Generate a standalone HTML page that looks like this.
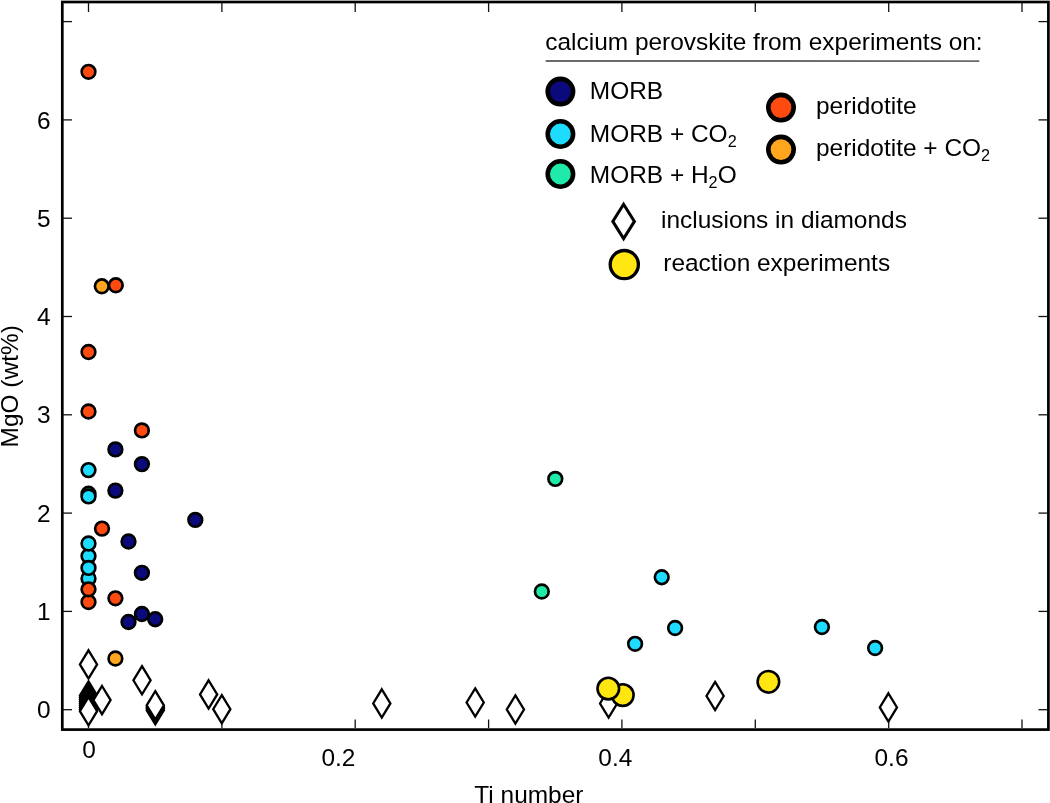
<!DOCTYPE html>
<html><head><meta charset="utf-8"><title>chart</title>
<style>html,body{margin:0;padding:0;background:#fff;}body{width:1050px;height:803px;overflow:hidden;}svg{display:block;will-change:transform;}text{font-family:"Liberation Sans",sans-serif;font-size:24.45px;fill:#000;}</style>
</head><body>
<svg width="1050" height="803" viewBox="0 0 1050 803">
<rect x="0" y="0" width="1050" height="803" fill="#fff"/>
<g stroke="#111" stroke-width="1.3" fill="none">
<line x1="88.5" y1="3" x2="88.5" y2="12"/>
<line x1="88.5" y1="728" x2="88.5" y2="719.5"/>
<line x1="221.9" y1="3" x2="221.9" y2="12"/>
<line x1="221.9" y1="728" x2="221.9" y2="719.5"/>
<line x1="355.2" y1="3" x2="355.2" y2="12"/>
<line x1="355.2" y1="728" x2="355.2" y2="719.5"/>
<line x1="488.6" y1="3" x2="488.6" y2="12"/>
<line x1="488.6" y1="728" x2="488.6" y2="719.5"/>
<line x1="621.9" y1="3" x2="621.9" y2="12"/>
<line x1="621.9" y1="728" x2="621.9" y2="719.5"/>
<line x1="755.3" y1="3" x2="755.3" y2="12"/>
<line x1="755.3" y1="728" x2="755.3" y2="719.5"/>
<line x1="888.7" y1="3" x2="888.7" y2="12"/>
<line x1="888.7" y1="728" x2="888.7" y2="719.5"/>
<line x1="1022.0" y1="3" x2="1022.0" y2="12"/>
<line x1="1022.0" y1="728" x2="1022.0" y2="719.5"/>
<line x1="63" y1="709.7" x2="72" y2="709.7"/>
<line x1="1047.5" y1="709.7" x2="1038.5" y2="709.7"/>
<line x1="63" y1="611.4" x2="72" y2="611.4"/>
<line x1="1047.5" y1="611.4" x2="1038.5" y2="611.4"/>
<line x1="63" y1="513.1" x2="72" y2="513.1"/>
<line x1="1047.5" y1="513.1" x2="1038.5" y2="513.1"/>
<line x1="63" y1="414.8" x2="72" y2="414.8"/>
<line x1="1047.5" y1="414.8" x2="1038.5" y2="414.8"/>
<line x1="63" y1="316.5" x2="72" y2="316.5"/>
<line x1="1047.5" y1="316.5" x2="1038.5" y2="316.5"/>
<line x1="63" y1="218.2" x2="72" y2="218.2"/>
<line x1="1047.5" y1="218.2" x2="1038.5" y2="218.2"/>
<line x1="63" y1="119.9" x2="72" y2="119.9"/>
<line x1="1047.5" y1="119.9" x2="1038.5" y2="119.9"/>
<line x1="63" y1="21.6" x2="72" y2="21.6"/>
<line x1="1047.5" y1="21.6" x2="1038.5" y2="21.6"/>
</g>
<g>
<path d="M88.5 650.3L97.1 664.4L88.5 678.5L79.9 664.4Z" fill="#fff" stroke="#000" stroke-width="2.3" stroke-linejoin="miter"/>
<path d="M88.5 681.4L97.1 695.5L88.5 709.6L79.9 695.5Z" fill="#fff" stroke="#000" stroke-width="2.3" stroke-linejoin="miter"/>
<path d="M88.5 683.4L97.1 697.5L88.5 711.6L79.9 697.5Z" fill="#fff" stroke="#000" stroke-width="2.3" stroke-linejoin="miter"/>
<path d="M88.5 685.4L97.1 699.5L88.5 713.6L79.9 699.5Z" fill="#fff" stroke="#000" stroke-width="2.3" stroke-linejoin="miter"/>
<path d="M88.5 687.4L97.1 701.5L88.5 715.6L79.9 701.5Z" fill="#fff" stroke="#000" stroke-width="2.3" stroke-linejoin="miter"/>
<path d="M88.5 689.4L97.1 703.5L88.5 717.6L79.9 703.5Z" fill="#fff" stroke="#000" stroke-width="2.3" stroke-linejoin="miter"/>
<path d="M88.5 691.4L97.1 705.5L88.5 719.6L79.9 705.5Z" fill="#fff" stroke="#000" stroke-width="2.3" stroke-linejoin="miter"/>
<path d="M88.5 693.4L97.1 707.5L88.5 721.6L79.9 707.5Z" fill="#fff" stroke="#000" stroke-width="2.3" stroke-linejoin="miter"/>
<path d="M88.5 695.4L97.1 709.5L88.5 723.6L79.9 709.5Z" fill="#fff" stroke="#000" stroke-width="2.3" stroke-linejoin="miter"/>
<path d="M102.0 686.0L110.6 700.1L102.0 714.2L93.4 700.1Z" fill="#fff" stroke="#000" stroke-width="2.3" stroke-linejoin="miter"/>
<path d="M88.5 697.1L97.1 711.2L88.5 725.3L79.9 711.2Z" fill="#fff" stroke="#000" stroke-width="2.3" stroke-linejoin="miter"/>
<path d="M142.0 666.2L150.6 680.3L142.0 694.4L133.4 680.3Z" fill="#fff" stroke="#000" stroke-width="2.3" stroke-linejoin="miter"/>
<path d="M155.3 696.1L163.9 710.2L155.3 724.3L146.7 710.2Z" fill="#fff" stroke="#000" stroke-width="2.3" stroke-linejoin="miter"/>
<path d="M155.3 694.5L163.9 708.6L155.3 722.7L146.7 708.6Z" fill="#fff" stroke="#000" stroke-width="2.3" stroke-linejoin="miter"/>
<path d="M155.3 692.9L163.9 707.0L155.3 721.1L146.7 707.0Z" fill="#fff" stroke="#000" stroke-width="2.3" stroke-linejoin="miter"/>
<path d="M155.3 691.2L163.9 705.3L155.3 719.4L146.7 705.3Z" fill="#fff" stroke="#000" stroke-width="2.3" stroke-linejoin="miter"/>
<path d="M208.6 680.3L217.2 694.4L208.6 708.5L200.0 694.4Z" fill="#fff" stroke="#000" stroke-width="2.3" stroke-linejoin="miter"/>
<path d="M221.8 695.1L230.4 709.2L221.8 723.3L213.2 709.2Z" fill="#fff" stroke="#000" stroke-width="2.3" stroke-linejoin="miter"/>
<path d="M381.8 689.3L390.4 703.4L381.8 717.5L373.2 703.4Z" fill="#fff" stroke="#000" stroke-width="2.3" stroke-linejoin="miter"/>
<path d="M475.2 688.4L483.8 702.5L475.2 716.6L466.6 702.5Z" fill="#fff" stroke="#000" stroke-width="2.3" stroke-linejoin="miter"/>
<path d="M515.4 695.4L524.0 709.5L515.4 723.6L506.8 709.5Z" fill="#fff" stroke="#000" stroke-width="2.3" stroke-linejoin="miter"/>
<path d="M608.6 689.4L617.2 703.5L608.6 717.6L600.0 703.5Z" fill="#fff" stroke="#000" stroke-width="2.3" stroke-linejoin="miter"/>
<path d="M715.1 681.9L723.7 696.0L715.1 710.1L706.5 696.0Z" fill="#fff" stroke="#000" stroke-width="2.3" stroke-linejoin="miter"/>
<path d="M888.4 693.3L897.0 707.4L888.4 721.5L879.8 707.4Z" fill="#fff" stroke="#000" stroke-width="2.3" stroke-linejoin="miter"/>
</g>
<g>
<circle cx="141.9" cy="614.0" r="6.85" fill="#0a0a7c" stroke="#000" stroke-width="2.65"/>
<circle cx="128.5" cy="622.0" r="6.85" fill="#0a0a7c" stroke="#000" stroke-width="2.65"/>
<circle cx="155.2" cy="619.2" r="6.85" fill="#0a0a7c" stroke="#000" stroke-width="2.65"/>
<circle cx="141.9" cy="572.8" r="6.85" fill="#0a0a7c" stroke="#000" stroke-width="2.65"/>
<circle cx="128.5" cy="541.5" r="6.85" fill="#0a0a7c" stroke="#000" stroke-width="2.65"/>
<circle cx="195.3" cy="519.9" r="6.85" fill="#0a0a7c" stroke="#000" stroke-width="2.65"/>
<circle cx="115.4" cy="490.6" r="6.85" fill="#0a0a7c" stroke="#000" stroke-width="2.65"/>
<circle cx="141.9" cy="464.1" r="6.85" fill="#0a0a7c" stroke="#000" stroke-width="2.65"/>
<circle cx="115.4" cy="449.4" r="6.85" fill="#0a0a7c" stroke="#000" stroke-width="2.65"/>
<circle cx="88.5" cy="602.0" r="6.85" fill="#ff4a10" stroke="#000" stroke-width="2.65"/>
<circle cx="115.4" cy="598.3" r="6.85" fill="#ff4a10" stroke="#000" stroke-width="2.65"/>
<circle cx="88.5" cy="578.5" r="6.85" fill="#1edcff" stroke="#000" stroke-width="2.65"/>
<circle cx="88.5" cy="556.1" r="6.85" fill="#1edcff" stroke="#000" stroke-width="2.65"/>
<circle cx="88.5" cy="589.3" r="6.85" fill="#ff4a10" stroke="#000" stroke-width="2.65"/>
<circle cx="88.5" cy="567.9" r="6.85" fill="#1edcff" stroke="#000" stroke-width="2.65"/>
<circle cx="88.5" cy="543.5" r="6.85" fill="#1edcff" stroke="#000" stroke-width="2.65"/>
<circle cx="102.0" cy="528.6" r="6.85" fill="#ff4a10" stroke="#000" stroke-width="2.65"/>
<circle cx="88.5" cy="493.8" r="6.85" fill="#1edcff" stroke="#000" stroke-width="2.65"/>
<circle cx="88.5" cy="496.4" r="6.85" fill="#1edcff" stroke="#000" stroke-width="2.65"/>
<circle cx="88.5" cy="470.1" r="6.85" fill="#1edcff" stroke="#000" stroke-width="2.65"/>
<circle cx="88.5" cy="411.5" r="6.85" fill="#ff4a10" stroke="#000" stroke-width="2.65"/>
<circle cx="141.9" cy="430.4" r="6.85" fill="#ff4a10" stroke="#000" stroke-width="2.65"/>
<circle cx="88.5" cy="352.0" r="6.85" fill="#ff4a10" stroke="#000" stroke-width="2.65"/>
<circle cx="101.8" cy="286.3" r="6.85" fill="#ffa51e" stroke="#000" stroke-width="2.65"/>
<circle cx="115.8" cy="285.3" r="6.85" fill="#ff4a10" stroke="#000" stroke-width="2.65"/>
<circle cx="88.5" cy="71.8" r="6.85" fill="#ff4a10" stroke="#000" stroke-width="2.65"/>
<circle cx="115.4" cy="658.5" r="6.85" fill="#ffa51e" stroke="#000" stroke-width="2.65"/>
<circle cx="555.3" cy="478.9" r="6.85" fill="#1eebaa" stroke="#000" stroke-width="2.65"/>
<circle cx="541.8" cy="591.5" r="6.85" fill="#1eebaa" stroke="#000" stroke-width="2.65"/>
<circle cx="661.7" cy="577.2" r="6.85" fill="#1edcff" stroke="#000" stroke-width="2.65"/>
<circle cx="675.1" cy="628.0" r="6.85" fill="#1edcff" stroke="#000" stroke-width="2.65"/>
<circle cx="635.1" cy="643.8" r="6.85" fill="#1edcff" stroke="#000" stroke-width="2.65"/>
<circle cx="821.9" cy="627.0" r="6.85" fill="#1edcff" stroke="#000" stroke-width="2.65"/>
<circle cx="875.1" cy="648.0" r="6.85" fill="#1edcff" stroke="#000" stroke-width="2.65"/>
<circle cx="622.8" cy="695.1" r="10.8" fill="#ffe610" stroke="#000" stroke-width="2.6"/>
<circle cx="608.3" cy="688.6" r="10.8" fill="#ffe610" stroke="#000" stroke-width="2.6"/>
<circle cx="768.4" cy="681.8" r="10.8" fill="#ffe610" stroke="#000" stroke-width="2.6"/>
</g>
<g stroke="#000" fill="none">
<rect x="62.3" y="2" width="986.1" height="727.6" stroke-width="2.7"/>
</g>
<text x="50.6" y="718.3" text-anchor="end">0</text>
<text x="50.6" y="620.0" text-anchor="end">1</text>
<text x="50.6" y="521.7" text-anchor="end">2</text>
<text x="50.6" y="423.4" text-anchor="end">3</text>
<text x="50.6" y="325.1" text-anchor="end">4</text>
<text x="50.6" y="226.8" text-anchor="end">5</text>
<text x="50.6" y="128.5" text-anchor="end">6</text>
<text x="89.0" y="757.8" text-anchor="middle">0</text>
<text x="321.4" y="765.8">0.2</text>
<text x="598.3" y="765.8">0.4</text>
<text x="874.5" y="765.8">0.6</text>
<text x="474.3" y="802.5">Ti number</text>
<text transform="translate(17.9,447.4) rotate(-90)">MgO (wt%)</text>
<text x="545.3" y="50.0" font-size="24.4">calcium perovskite from experiments on:</text>
<line x1="545.7" y1="61.0" x2="979.3" y2="61.1" stroke="#6a6a6a" stroke-width="1.9"/>
<circle cx="560.4" cy="91.6" r="12.7" fill="#0a0a7c" stroke="#000" stroke-width="4.6"/>
<circle cx="560.4" cy="134.0" r="12.7" fill="#1edcff" stroke="#000" stroke-width="4.6"/>
<circle cx="560.4" cy="174.0" r="12.7" fill="#1eebaa" stroke="#000" stroke-width="4.6"/>
<circle cx="781" cy="107.6" r="12.7" fill="#ff4a10" stroke="#000" stroke-width="4.6"/>
<circle cx="781" cy="149.6" r="12.7" fill="#ffa51e" stroke="#000" stroke-width="4.6"/>
<text x="589.8" y="98.6">MORB</text>
<text x="589.8" y="142.0">MORB + CO<tspan font-size="16.2" dy="5">2</tspan></text>
<text x="589.8" y="183.0">MORB + H<tspan font-size="16.2" dy="5">2</tspan><tspan dy="-5">O</tspan></text>
<text x="816.0" y="114.1">peridotite</text>
<text x="816.0" y="155.6">peridotite + CO<tspan font-size="16.2" dy="5">2</tspan></text>
<path d="M623.6 204.2L634.4 221.4L623.6 238.6L612.8 221.4Z" fill="#fff" stroke="#000" stroke-width="3" stroke-linejoin="miter"/>
<circle cx="624.3" cy="264.6" r="14.1" fill="#ffe610" stroke="#000" stroke-width="3.3"/>
<text x="661.0" y="228.1" font-size="24.33">inclusions in diamonds</text>
<text x="663.3" y="271.3" font-size="24.3">reaction experiments</text>
</svg></body></html>
